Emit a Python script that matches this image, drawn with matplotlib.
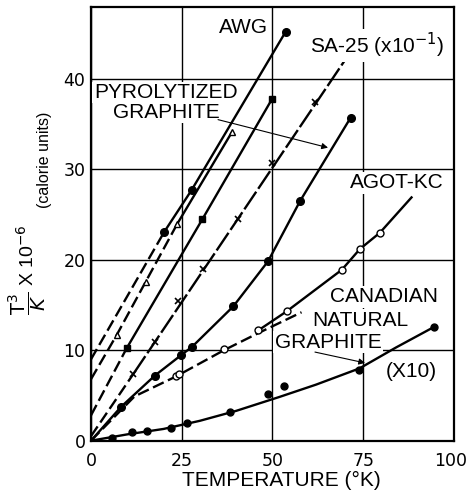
import matplotlib
matplotlib.use("Agg")
import matplotlib.pyplot as plt
from matplotlib.transforms import ScaledTranslation

# AWG (filled circles) - solid part, dashed extrapolation to the axis
awg_t = [20.2, 27.7, 53.6]
awg_v = [23.1, 27.7, 45.2]
awg_ext_t = [0.0, 20.2]
awg_ext_v = [9.0, 23.1]

# pyrolytized graphite, triangles
tri_t = [7.1, 15.1, 23.8, 38.8]
tri_v = [11.7, 17.6, 24.0, 34.1]
tri_ext_t = [0.0, 7.1, 15.1, 23.8]
tri_ext_v = [6.8, 11.7, 17.6, 24.0]

# squares
sq_t = [9.8, 30.7, 49.9]
sq_v = [10.2, 24.5, 37.8]
sq_ext_t = [0.0, 9.8]
sq_ext_v = [2.8, 10.2]

# SA-25 (x10^-1), crosses
sa_t = [11.7, 17.6, 23.9, 30.9, 40.6, 49.9, 61.7]
sa_v = [7.4, 10.9, 15.5, 19.0, 24.5, 30.7, 37.4]
sa_line_t = [11.7, 70.0]
sa_line_v = [7.4, 42.1]
sa_ext_t = [0.0, 11.7]
sa_ext_v = [0.5, 7.4]

# pyrolytized graphite, filled circles on the curved line
pc_t = [8.3, 17.6, 24.8, 27.9, 39.2, 48.8, 57.6, 71.5]
pc_v = [3.75, 7.2, 9.45, 10.4, 14.85, 19.85, 26.5, 35.7]

# AGOT-KC, open circles
ag_t = [23.4, 24.3, 36.6, 46.1, 53.9, 69.1, 74.1, 79.6]
ag_v = [7.2, 7.35, 10.1, 12.2, 14.3, 18.9, 21.2, 23.0]
ag_dash_t = [0.0, 12.0, 23.4, 36.6, 46.1, 58.0]
ag_dash_v = [0.0, 4.9, 7.1, 10.0, 11.9, 14.2]
ag_solid_t = [46.1, 53.9, 69.1, 74.1, 79.6, 88.3]
ag_solid_v = [12.2, 14.3, 18.9, 21.2, 23.0, 26.9]

# Canadian natural graphite (x10)
cn_t = [5.9, 11.2, 15.5, 22.0, 26.5, 38.3, 48.8, 53.3, 73.8, 94.6]
cn_v = [0.26, 0.93, 1.04, 1.4, 2.0, 3.16, 5.2, 6.07, 7.8, 12.6]
cn_line_t = [0, 10, 20, 30, 40, 52, 62, 74, 84, 94.6]
cn_line_v = [0, 0.7, 1.3, 2.2, 3.3, 4.85, 6.2, 8.0, 10.3, 12.6]

x_ticks = [0, 25, 50, 75, 100]
y_ticks = [0, 10, 20, 30, 40]

LAB = ["Liberation Sans", "DejaVu Sans"]
LW = 1.7
DASH = (0, (5, 2))

fig = plt.figure(figsize=(4.69, 4.95), dpi=100)
ax = fig.add_axes([0.194, 0.1097, 0.774, 0.877])

ms = dict(color="black", linestyle="none", zorder=4)
ax.plot(awg_t, awg_v, color="black", lw=LW)
ax.plot(awg_ext_t, awg_ext_v, color="black", lw=LW, linestyle=DASH)
ax.plot(awg_t, awg_v, marker="o", markersize=5.5, **ms)

ax.plot(tri_t[2:], tri_v[2:], color="black", lw=LW)
ax.plot(tri_ext_t, tri_ext_v, color="black", lw=LW, linestyle=DASH)
ax.plot(tri_t, tri_v, marker="^", markersize=5, markerfacecolor="white", markeredgewidth=1.0, **ms)

ax.plot(sq_t, sq_v, color="black", lw=LW)
ax.plot(sq_ext_t, sq_ext_v, color="black", lw=LW, linestyle=DASH)
ax.plot(sq_t, sq_v, marker="s", markersize=5, **ms)

ax.plot(sa_line_t, sa_line_v, color="black", lw=LW, linestyle=(0, (9, 1.5)))
ax.plot(sa_ext_t, sa_ext_v, color="black", lw=LW, linestyle=DASH)
ax.plot(sa_t, sa_v, marker="x", markersize=5, markeredgewidth=1.2, **ms)

ax.plot([0] + pc_t, [0] + pc_v, color="black", lw=LW)
ax.plot(pc_t, pc_v, marker="o", markersize=5.5, **ms)

ax.plot(ag_dash_t, ag_dash_v, color="black", lw=LW, linestyle=DASH)
ax.plot(ag_solid_t, ag_solid_v, color="black", lw=LW)
ax.plot(ag_t, ag_v, marker="o", markersize=5, markerfacecolor="white", markeredgewidth=1.0, **ms)

ax.plot(cn_line_t, cn_line_v, color="black", lw=LW)
ax.plot(cn_t, cn_v, marker="o", markersize=5, **ms)

ax.set_xlim(0, 100)
ax.set_ylim(0, 48)
ax.set_xticks(x_ticks)
ax.set_yticks(y_ticks)
ax.tick_params(length=0, labelsize=12.5)
ax.tick_params(axis="x", pad=8)
ax.tick_params(axis="y", pad=4)
for lbl in ax.get_xticklabels() + ax.get_yticklabels():
    lbl.set_family("DejaVu Sans")
last = ax.get_xticklabels()[-1]
last.set_transform(last.get_transform() + ScaledTranslation(-3 / 100, 0, fig.dpi_scale_trans))
ax.grid(True, color="black", lw=1.0)
ax.set_axisbelow(True)
for sp in ax.spines.values():
    sp.set_linewidth(1.6)

box = dict(facecolor="white", edgecolor="none", pad=1)
tkw = dict(fontsize=15, family=LAB, bbox=box, zorder=5, va="center")
ax.text(35.3, 45.7, "AWG", ha="left", **tkw)
ax.text(60.3, 43.7, "SA-25 (x10$^{-1}$)", ha="left", **tkw)
ax.text(20.6, 38.5, "PYROLYTIZED", ha="center", **tkw)
ax.text(20.8, 36.3, "GRAPHITE", ha="center", **tkw)
ax.text(71.3, 28.5, "AGOT-KC", ha="left", **tkw)
ax.text(80.7, 15.9, "CANADIAN", ha="center", **tkw)
ax.text(74.3, 13.3, "NATURAL", ha="center", **tkw)
ax.text(65.3, 10.9, "GRAPHITE", ha="center", **tkw)
ax.text(88.2, 7.6, "(X10)", ha="center", **tkw)

arrow = dict(arrowstyle="-|>", color="black", lw=0.8, mutation_scale=9, shrinkA=0, shrinkB=0)
ax.annotate("", xy=(65.3, 32.4), xytext=(35.0, 35.5), arrowprops=arrow, zorder=6)
ax.annotate("", xy=(75.5, 8.6), xytext=(61.7, 9.8), arrowprops=arrow, zorder=6)

fig.text(0.599, 0.03, "TEMPERATURE (°K)", ha="center", va="center", fontsize=15, family=LAB)
fig.text(0.0576, 0.4556, r"$\dfrac{\mathrm{T}^3}{K}$ X 10$^{-6}$", rotation=90,
         ha="center", va="center", fontsize=14, family=LAB)
fig.text(0.095, 0.677, "(calorie units)", rotation=90, ha="center", va="center",
         fontsize=11.5, family=LAB)

fig.savefig("out.png", dpi=100)
